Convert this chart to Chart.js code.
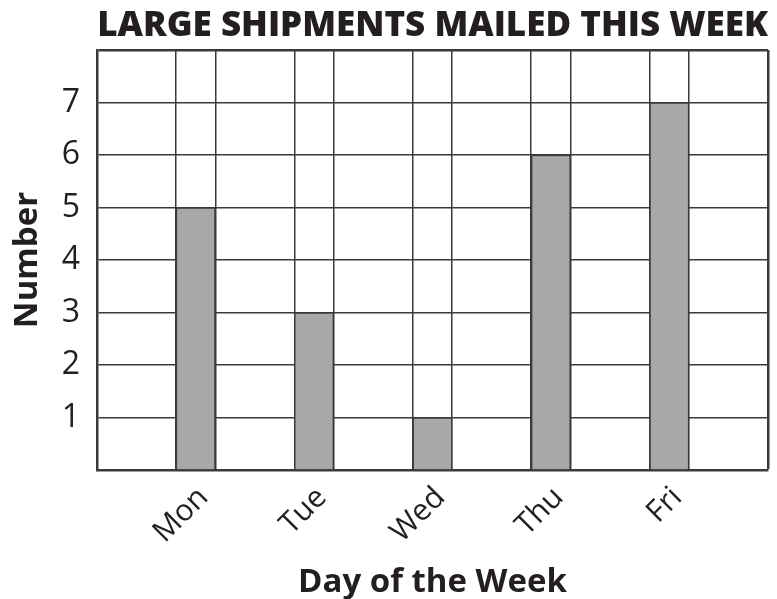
<!DOCTYPE html>
<html>
<head>
<meta charset="utf-8">
<script src="https://cdn.jsdelivr.net/npm/chart.js@4.4.1/dist/chart.umd.min.js"></script>
<style>
  html, body { margin: 0; padding: 0; background: #fff; }
</style>
</head>
<body>
<canvas id="chart" width="777" height="599"></canvas>
<script>
const days = ['Mon', 'Tue', 'Wed', 'Thu', 'Fri'];
const shipments = [5, 3, 1, 6, 7];
const yTickLabels = [1, 2, 3, 4, 5, 6, 7];

// grid layout: each day takes 3 columns, the bar fills the last one
const COLS = 17;
const Y_MAX = 8;
const LABEL_SHIFT = 0.2; // nudges rotated day labels along x
const center = i => 3 * i + 2.5;

const gridLines = [0, COLS];
days.forEach((d, i) => gridLines.push(3 * i + 2, 3 * i + 3));
gridLines.sort((a, b) => a - b);
const labelTicks = days.map((d, i) => center(i) + LABEL_SHIFT);

const ink = '#231f20';
const lineCol = '#3a3a3a';
const font = 'Open Sans, Noto Sans, sans-serif';
const tickVal = c => (c && c.tick ? c.tick.value : null);

new Chart(document.getElementById('chart'), {
  type: 'bar',
  data: {
    datasets: [{
      data: days.map((d, i) => ({ x: center(i), y: shipments[i] })),
      backgroundColor: '#a7a8aa',
      borderColor: lineCol,
      borderWidth: 1.5,
      categoryPercentage: 1,
      barPercentage: 1
    }]
  },
  options: {
    responsive: false,
    animation: false,
    devicePixelRatio: 1,
    layout: { padding: { left: 0, right: 9, top: 0, bottom: 0 } },
    plugins: {
      legend: { display: false },
      tooltip: { enabled: false },
      title: {
        display: true,
        text: 'LARGE SHIPMENTS MAILED THIS WEEK',
        align: 'end',
        color: ink,
        font: { family: font, size: 35, weight: 800 },
        padding: { top: 5, bottom: 3 }
      }
    },
    scales: {
      // grid columns (bars are bound to this one)
      x: {
        type: 'linear',
        position: 'bottom',
        min: 0,
        max: COLS,
        offset: false,
        afterFit: s => { s.height = 0; },
        afterBuildTicks: s => { s.ticks = gridLines.map(v => ({ value: v })); },
        ticks: { display: false, autoSkip: false },
        grid: {
          offset: false,
          drawTicks: false,
          color: lineCol,
          lineWidth: c => tickVal(c) === COLS ? 2.5 : 1.5
        },
        border: { color: lineCol, width: 2.5 }
      },
      // day names under the bars
      days: {
        type: 'linear',
        position: 'bottom',
        min: 0,
        max: COLS,
        offset: false,
        afterFit: s => { s.height = 129; },
        afterBuildTicks: s => { s.ticks = labelTicks.map(v => ({ value: v })); },
        ticks: {
          autoSkip: false,
          minRotation: 45,
          maxRotation: 45,
          padding: 10,
          color: ink,
          font: { family: font, size: 30 },
          callback: v => days[labelTicks.indexOf(v)]
        },
        grid: { display: false, drawTicks: false },
        border: { display: false },
        title: {
          display: true,
          text: 'Day of the Week',
          color: ink,
          font: { family: font, size: 33, weight: 'bold' },
          padding: { top: 0, bottom: -3 }
        }
      },
      y: {
        type: 'linear',
        min: 0,
        max: Y_MAX,
        afterFit: s => { s.width = 97; },
        ticks: {
          stepSize: 1,
          padding: 17,
          color: ink,
          font: { family: font, size: 32 },
          callback: v => yTickLabels.includes(v) ? v : ''
        },
        grid: {
          drawTicks: false,
          color: lineCol,
          lineWidth: c => tickVal(c) === Y_MAX ? 2.5 : 1.5
        },
        border: { color: lineCol, width: 2.5 },
        title: {
          display: true,
          text: 'Number',
          color: ink,
          font: { family: font, size: 33, weight: 'bold' },
          padding: { top: 8, bottom: 0 }
        }
      }
    }
  }
});
</script>
</body>
</html>
